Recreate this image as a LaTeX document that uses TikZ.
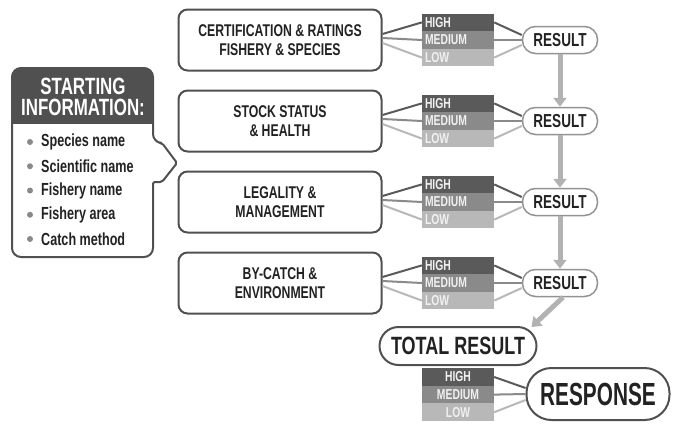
\documentclass[tikz,border=0pt]{standalone}
\usepackage{fontspec}
\setmainfont{Liberation Sans}[FakeStretch=0.72]
\newfontfamily\narrowfont{Liberation Sans}[FakeStretch=0.65]
\usetikzlibrary{arrows.meta}

\definecolor{hicol}{HTML}{5A5A5A}
\definecolor{medcol}{HTML}{8A8A8A}
\definecolor{lowcol}{HTML}{B8B8B8}
\definecolor{edgecol}{HTML}{505050}
\definecolor{inkcol}{HTML}{222222}
\definecolor{flowcol}{HTML}{B2B2B2}

\tikzset{
  catbox/.style={draw=edgecol, line width=2pt, rounded corners=9pt, fill=white,
    minimum width=203pt, minimum height=61pt, align=center, text=inkcol,
    font=\bfseries\fontsize{17}{19.5}\selectfont},
  band/.style={minimum width=72pt, minimum height=17.6pt, inner sep=0pt,
    text width=66pt, align=left, text=white!94!black,
    font=\bfseries\fontsize{14.4}{14.4}\selectfont},
  hiband/.style={band, fill=hicol},
  medband/.style={band, fill=medcol},
  lowband/.style={band, fill=lowcol},
  midtext/.style={align=center},
  resbox/.style={draw=gray!85, line width=1.5pt, rounded corners=13pt, fill=white,
    minimum width=75pt, minimum height=27pt, inner sep=0pt, text=inkcol,
    font=\bfseries\fontsize{18.8}{18.8}\selectfont},
  totbox/.style={resbox, line width=2pt, draw=edgecol, rounded corners=19pt,
    minimum width=157pt, minimum height=38pt,
    font=\bfseries\fontsize{25}{25}\selectfont},
  respbox/.style={resbox, line width=2pt, draw=edgecol, rounded corners=25pt,
    minimum width=143pt, minimum height=52pt,
    font=\narrowfont\bfseries\fontsize{32}{32}\selectfont},
  headtext/.style={text=white, inner sep=0pt, align=center,
    font=\bfseries\fontsize{23.5}{20.5}\selectfont},
  itemtext/.style={anchor=west, inner sep=0pt, text=inkcol,
    font=\bfseries\fontsize{17.5}{17.5}\selectfont},
  hiline/.style={draw=hicol, line width=2pt},
  medline/.style={draw=medcol, line width=2pt},
  lowline/.style={draw=lowcol, line width=2pt},
  flow/.style={draw=flowcol, line width=5pt, -{Triangle[width=13pt,length=9pt]}},
}

\begin{document}
\begin{tikzpicture}[x=1pt, y=-1pt]
  \useasboundingbox (0,0) rectangle (674,423);
  % starting information panel
  \fill[white, rounded corners=9pt] (12,68) rectangle (153,257);
  \begin{scope}
    \clip (0,0) rectangle (160,123);
    \fill[edgecol, rounded corners=9pt] (12,68) rectangle (153,257);
  \end{scope}
  \draw[edgecol, line width=2pt, rounded corners=9pt]
    (82,68) -- (153,68) -- (153,143) [rounded corners=2pt] -- (162,143)
    -- (177,163) -- (162,182) -- (153,182) [rounded corners=9pt]
    -- (153,257) -- (12,257) -- (12,68) -- cycle;
  \node[headtext] (start) at (83,97) {STARTING\\INFORMATION:};
  \foreach \k/\lbl in {0/Species name, 1/Scientific name, 2/Fishery name,
                       3/Fishery area, 4/Catch method} {
    \fill[medcol] (30,{142+24.25*\k}) circle (3pt);
    \node[itemtext] (item\k) at (41,{142+24.25*\k}) {\lbl};
  }
  % the four criteria
  \foreach \i/\txt in {0/{CERTIFICATION \& RATINGS\\FISHERY \& SPECIES},
                       1/{STOCK STATUS\\\& HEALTH},
                       2/{LEGALITY \&\\MANAGEMENT},
                       3/{BY-CATCH \&\\ENVIRONMENT}} {
    \pgfmathsetmacro\yc{40+81*\i}
    \node[catbox] (c\i) at (280,\yc) {\txt};
    \node[hiband] (h\i) at (458,{\yc-17.6}) {HIGH};
    \node[medband] (m\i) at (458,\yc) {MEDIUM};
    \node[lowband] (l\i) at (458,{\yc+17.6}) {LOW};
    \node[resbox] (r\i) at (560,\yc) {RESULT};
    \draw[hiline] ([yshift=6pt]c\i.east) -- (h\i.west);
    \draw[medline] ([yshift=2pt]c\i.east) -- (m\i.west);
    \draw[lowline] ([yshift=-3pt]c\i.east) -- (l\i.west);
    \draw[hiline] (h\i.east) -- ([yshift=5pt]r\i.west);
    \draw[medline] (m\i.east) -- (r\i.west);
    \draw[lowline] (l\i.east) -- ([yshift=-5pt]r\i.west);
  }
  \foreach \i/\j in {0/1, 1/2, 2/3}
    \draw[flow] (r\i.south) -- (r\j.north);
  % total and response
  \node[totbox] (tot) at (458,346) {TOTAL RESULT};
  \draw[flow] ([xshift=3pt]r3.south) -- ([xshift=-6pt,yshift=-1pt]tot.north east);
  \node[hiband, midtext] (th) at (458,377) {HIGH};
  \node[medband, midtext] (tm) at (458,394.6) {MEDIUM};
  \node[lowband, midtext] (tl) at (458,412.2) {LOW};
  \node[respbox] (resp) at (598,394) {RESPONSE};
  \draw[hiline] (th.east) -- ([yshift=6pt]resp.west);
  \draw[medline] (tm.east) -- (resp.west);
  \draw[lowline] (tl.east) -- ([yshift=-6pt]resp.west);
\end{tikzpicture}
\end{document}
